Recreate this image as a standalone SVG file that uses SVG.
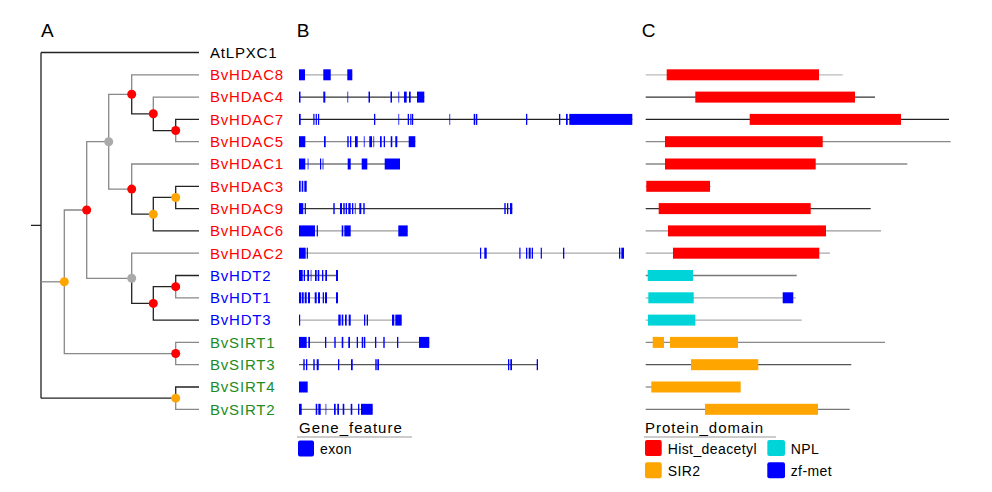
<svg xmlns="http://www.w3.org/2000/svg" width="992" height="492" viewBox="0 0 992 492">
<style>
text{font-family:"Liberation Sans",Arial,sans-serif;}
.pl{font-size:19px;fill:#000}
.lab{font-size:15px;letter-spacing:0.8px}
.h{fill:#ff0000}.t{fill:#0000ff}.s{fill:#1e8c1e}
.k{stroke:#222;stroke-width:1.3;fill:none}
.g{stroke:#888;stroke-width:1.3;fill:none}
.dr{fill:#ff0000}.dg{fill:#aaaaaa}.do{fill:#ffa500}
.ex rect{fill:#0000ff}
.ln{stroke-width:1.3}
.hd{fill:#ff0000}.np{fill:#00d4d8}.zf{fill:#0000ff}.sr{fill:#ffa500}
.lg{font-size:15px;letter-spacing:1px;fill:#000}
.li{font-size:14px;letter-spacing:0.4px;fill:#000}
</style>
<g id="panel-labels">
<text class="pl" x="41" y="36.7">A</text>
<text class="pl" x="296.7" y="36.7">B</text>
<text class="pl" x="641.7" y="36.7">C</text>
</g>
<g id="tree-connectors">
<path class="k" d="M31,225.3H41M41,52.5V398.15M41,52.5H199"/>
<path class="g" d="M41,281.8H64.3"/>
<path class="k" d="M41,398.15H175.7"/>
<path class="g" d="M64.3,281.8V210H86.7"/>
<path class="g" d="M64.3,281.8V353.55H175.7"/>
<path class="g" d="M86.7,210V141.7H108.7"/>
<path class="g" d="M86.7,210V278.3H131.7"/>
<path class="g" d="M108.7,141.7V94.3H131.7"/>
<path class="g" d="M108.7,141.7V189.1H131.7"/>
<path class="g" d="M131.7,94.3V74.8H199"/>
<path class="k" d="M131.7,94.3V113.8H153.3"/>
<path class="g" d="M153.3,113.8V97.1H199"/>
<path class="k" d="M153.3,113.8V130.55H175.7"/>
<path class="k" d="M175.7,130.55V119.4H199"/>
<path class="g" d="M175.7,130.55V141.7H199"/>
<path class="g" d="M131.7,189.1V164H199"/>
<path class="k" d="M131.7,189.1V214.2H153.3"/>
<path class="k" d="M153.3,214.2V197.45H175.7"/>
<path class="k" d="M153.3,214.2V230.9H199"/>
<path class="k" d="M175.7,197.45V186.3H199"/>
<path class="k" d="M175.7,197.45V208.6H199"/>
<path class="g" d="M131.7,278.3V253.2H199"/>
<path class="k" d="M131.7,278.3V303.4H153.3"/>
<path class="k" d="M153.3,303.4V286.65H175.7"/>
<path class="k" d="M153.3,303.4V320.1H199"/>
<path class="k" d="M175.7,286.65V275.5H199"/>
<path class="g" d="M175.7,286.65V297.8H199"/>
<path class="g" d="M175.7,353.55V342.4H199"/>
<path class="g" d="M175.7,353.55V364.7H199"/>
<path class="k" d="M175.7,398.15V387H199"/>
<path class="g" d="M175.7,398.15V409.3H199"/>
</g>
<g id="tree-nodes">
<circle class="dg" cx="108.7" cy="141.7" r="4.5"/>
<circle class="dr" cx="131.7" cy="94.3" r="4.5"/>
<circle class="dr" cx="153.3" cy="113.8" r="4.5"/>
<circle class="dr" cx="175.7" cy="130.55" r="4.5"/>
<circle class="dr" cx="131.7" cy="189.1" r="4.5"/>
<circle class="do" cx="153.3" cy="214.2" r="4.5"/>
<circle class="do" cx="175.7" cy="197.45" r="4.5"/>
<circle class="dr" cx="86.7" cy="210" r="4.5"/>
<circle class="dg" cx="131.7" cy="278.3" r="4.5"/>
<circle class="dr" cx="153.3" cy="303.4" r="4.5"/>
<circle class="dr" cx="175.7" cy="286.65" r="4.5"/>
<circle class="do" cx="64.3" cy="281.8" r="4.5"/>
<circle class="dr" cx="175.7" cy="353.55" r="4.5"/>
<circle class="do" cx="175.7" cy="398.15" r="4.5"/>
</g>
<g id="leaf-labels" class="lab">
<text x="210" y="57.8" fill="#000">AtLPXC1</text>
<text class="h" x="210" y="80.1">BvHDAC8</text>
<text class="h" x="210" y="102.4">BvHDAC4</text>
<text class="h" x="210" y="124.7">BvHDAC7</text>
<text class="h" x="210" y="147">BvHDAC5</text>
<text class="h" x="210" y="169.3">BvHDAC1</text>
<text class="h" x="210" y="191.6">BvHDAC3</text>
<text class="h" x="210" y="213.9">BvHDAC9</text>
<text class="h" x="210" y="236.2">BvHDAC6</text>
<text class="h" x="210" y="258.5">BvHDAC2</text>
<text class="t" x="210" y="280.8">BvHDT2</text>
<text class="t" x="210" y="303.1">BvHDT1</text>
<text class="t" x="210" y="325.4">BvHDT3</text>
<text class="s" x="210" y="347.7">BvSIRT1</text>
<text class="s" x="210" y="370">BvSIRT3</text>
<text class="s" x="210" y="392.3">BvSIRT4</text>
<text class="s" x="210" y="414.6">BvSIRT2</text>
</g>
<g id="gene-BvHDAC8">
<line class="ln" x1="299" y1="74.8" x2="352.3" y2="74.8" stroke="#aaa"/>
<g class="ex"><rect x="299" y="69.3" width="6" height="11"/><rect x="323.3" y="69.3" width="7.4" height="11"/><rect x="347.3" y="69.3" width="5" height="11"/></g>
</g>
<g id="gene-BvHDAC4">
<line class="ln" x1="299" y1="97.1" x2="424.3" y2="97.1" stroke="#333"/>
<g class="ex"><rect x="299" y="91.6" width="1.5" height="11"/><rect x="323.3" y="91.6" width="2" height="11"/><rect x="347" y="91.6" width="1.3" height="11" opacity="0.6"/><rect x="368.5" y="91.6" width="1.5" height="11"/><rect x="390.5" y="91.6" width="1.5" height="11"/><rect x="398" y="91.6" width="1.3" height="11" opacity="0.6"/><rect x="404" y="91.6" width="2.7" height="11"/><rect x="409" y="91.6" width="1.7" height="11"/><rect x="417" y="91.6" width="7.3" height="11"/></g>
</g>
<g id="gene-BvHDAC7">
<line class="ln" x1="299" y1="119.4" x2="632.3" y2="119.4" stroke="#222"/>
<g class="ex"><rect x="299" y="113.9" width="1.7" height="11"/><rect x="313.3" y="113.9" width="1.2" height="11"/><rect x="315.7" y="113.9" width="1.2" height="11"/><rect x="318" y="113.9" width="1.2" height="11"/><rect x="374" y="113.9" width="1.3" height="11"/><rect x="398" y="113.9" width="1.3" height="11" opacity="0.6"/><rect x="407.7" y="113.9" width="1.3" height="11"/><rect x="410.3" y="113.9" width="1.2" height="11"/><rect x="412" y="113.9" width="1.2" height="11"/><rect x="449" y="113.9" width="1.3" height="11" opacity="0.6"/><rect x="473.7" y="113.9" width="1.6" height="11"/><rect x="476" y="113.9" width="1.3" height="11"/><rect x="526" y="113.9" width="1.3" height="11"/><rect x="559" y="113.9" width="1.3" height="11"/><rect x="566" y="113.9" width="1.7" height="11"/><rect x="569.3" y="113.9" width="63" height="11"/></g>
</g>
<g id="gene-BvHDAC5">
<line class="ln" x1="299" y1="141.7" x2="415.3" y2="141.7" stroke="#888"/>
<g class="ex"><rect x="299" y="136.2" width="6.3" height="11"/><rect x="324" y="136.2" width="1.7" height="11"/><rect x="347.3" y="136.2" width="1.4" height="11"/><rect x="350" y="136.2" width="1.3" height="11"/><rect x="355" y="136.2" width="2.7" height="11"/><rect x="363.7" y="136.2" width="1.3" height="11" opacity="0.6"/><rect x="369.3" y="136.2" width="2.7" height="11"/><rect x="373" y="136.2" width="1.3" height="11" opacity="0.6"/><rect x="380" y="136.2" width="1.7" height="11"/><rect x="383.7" y="136.2" width="1.3" height="11"/><rect x="390.7" y="136.2" width="1.6" height="11"/><rect x="395.3" y="136.2" width="2" height="11"/><rect x="408.7" y="136.2" width="6.6" height="11"/></g>
</g>
<g id="gene-BvHDAC1">
<line class="ln" x1="299" y1="164" x2="400" y2="164" stroke="#777"/>
<g class="ex"><rect x="299" y="158.5" width="6.3" height="11"/><rect x="307.5" y="158.5" width="1.2" height="11" opacity="0.6"/><rect x="320" y="158.5" width="1.2" height="11"/><rect x="322.3" y="158.5" width="1.4" height="11" opacity="0.6"/><rect x="347.7" y="158.5" width="3" height="11"/><rect x="361.7" y="158.5" width="5.6" height="11"/><rect x="384.7" y="158.5" width="15.3" height="11"/></g>
</g>
<g id="gene-BvHDAC3">
<g class="ex"><rect x="299" y="180.8" width="1.7" height="11"/><rect x="301.7" y="180.8" width="1.6" height="11"/><rect x="304.3" y="180.8" width="2.4" height="11"/></g>
</g>
<g id="gene-BvHDAC9">
<line class="ln" x1="299" y1="208.6" x2="512.3" y2="208.6" stroke="#333"/>
<g class="ex"><rect x="299" y="203.1" width="4.3" height="11"/><rect x="304.7" y="203.1" width="1.2" height="11"/><rect x="333.3" y="203.1" width="1.4" height="11"/><rect x="340" y="203.1" width="2" height="11"/><rect x="343.3" y="203.1" width="1.4" height="11"/><rect x="345.7" y="203.1" width="1.3" height="11"/><rect x="348.3" y="203.1" width="2.4" height="11"/><rect x="352" y="203.1" width="1.3" height="11"/><rect x="354.7" y="203.1" width="1.3" height="11" opacity="0.6"/><rect x="359.3" y="203.1" width="2" height="11"/><rect x="363.3" y="203.1" width="1.4" height="11"/><rect x="504.3" y="203.1" width="1.4" height="11"/><rect x="507" y="203.1" width="1.3" height="11"/><rect x="510" y="203.1" width="2.3" height="11"/></g>
</g>
<g id="gene-BvHDAC6">
<line class="ln" x1="299" y1="230.9" x2="407.7" y2="230.9" stroke="#999"/>
<g class="ex"><rect x="299" y="225.4" width="16" height="11"/><rect x="316.7" y="225.4" width="1.2" height="11"/><rect x="341.7" y="225.4" width="1.6" height="11"/><rect x="344.3" y="225.4" width="6.4" height="11"/><rect x="398.3" y="225.4" width="9.4" height="11"/></g>
</g>
<g id="gene-BvHDAC2">
<line class="ln" x1="299" y1="253.2" x2="624" y2="253.2" stroke="#aaa"/>
<g class="ex"><rect x="299" y="247.7" width="6.7" height="11"/><rect x="306.7" y="247.7" width="1.2" height="11"/><rect x="480" y="247.7" width="1.2" height="11"/><rect x="484.3" y="247.7" width="2.4" height="11"/><rect x="519.3" y="247.7" width="1.2" height="11"/><rect x="526" y="247.7" width="1.3" height="11"/><rect x="528.7" y="247.7" width="2" height="11"/><rect x="531.7" y="247.7" width="1.3" height="11"/><rect x="540.7" y="247.7" width="1.2" height="11"/><rect x="563" y="247.7" width="1.3" height="11"/><rect x="619" y="247.7" width="1.3" height="11"/><rect x="621.3" y="247.7" width="2.7" height="11"/></g>
</g>
<g id="gene-BvHDT2">
<line class="ln" x1="299" y1="275.5" x2="338" y2="275.5" stroke="#666"/>
<g class="ex"><rect x="299" y="270" width="3.7" height="11"/><rect x="303.7" y="270" width="1.3" height="11"/><rect x="307.3" y="270" width="1.7" height="11"/><rect x="310.5" y="270" width="1.2" height="11" opacity="0.6"/><rect x="315" y="270" width="1.7" height="11"/><rect x="317.7" y="270" width="1.6" height="11"/><rect x="322" y="270" width="1.3" height="11"/><rect x="325.3" y="270" width="1.7" height="11"/><rect x="336" y="270" width="2" height="11"/></g>
</g>
<g id="gene-BvHDT1">
<line class="ln" x1="299" y1="297.8" x2="338" y2="297.8" stroke="#aaa"/>
<g class="ex"><rect x="299" y="292.3" width="2" height="11"/><rect x="301.7" y="292.3" width="2" height="11"/><rect x="304.7" y="292.3" width="2" height="11"/><rect x="308" y="292.3" width="2" height="11"/><rect x="314.7" y="292.3" width="2" height="11"/><rect x="318" y="292.3" width="2" height="11"/><rect x="322.7" y="292.3" width="1.3" height="11"/><rect x="325" y="292.3" width="2" height="11"/><rect x="336" y="292.3" width="2" height="11"/></g>
</g>
<g id="gene-BvHDT3">
<line class="ln" x1="299" y1="320.1" x2="401.7" y2="320.1" stroke="#aaa"/>
<g class="ex"><rect x="299" y="314.6" width="1.2" height="11"/><rect x="338.3" y="314.6" width="2.4" height="11"/><rect x="341.7" y="314.6" width="1.6" height="11"/><rect x="345" y="314.6" width="1.7" height="11"/><rect x="348.7" y="314.6" width="2" height="11"/><rect x="364" y="314.6" width="1.3" height="11"/><rect x="366.7" y="314.6" width="1.3" height="11"/><rect x="392" y="314.6" width="2.3" height="11"/><rect x="395.3" y="314.6" width="6.4" height="11"/></g>
</g>
<g id="gene-BvSIRT1">
<line class="ln" x1="299" y1="342.4" x2="429.3" y2="342.4" stroke="#888"/>
<g class="ex"><rect x="299" y="336.9" width="7.7" height="11"/><rect x="308.3" y="336.9" width="1.7" height="11"/><rect x="325" y="336.9" width="1.3" height="11"/><rect x="334.3" y="336.9" width="1.4" height="11"/><rect x="341.7" y="336.9" width="1.6" height="11"/><rect x="348.3" y="336.9" width="1.7" height="11"/><rect x="356.7" y="336.9" width="1.3" height="11"/><rect x="361.7" y="336.9" width="1.6" height="11"/><rect x="364" y="336.9" width="1.3" height="11"/><rect x="375" y="336.9" width="1.3" height="11"/><rect x="383.3" y="336.9" width="1.4" height="11"/><rect x="397" y="336.9" width="1.3" height="11"/><rect x="419" y="336.9" width="10.3" height="11"/></g>
</g>
<g id="gene-BvSIRT3">
<line class="ln" x1="299" y1="364.7" x2="537.7" y2="364.7" stroke="#555"/>
<g class="ex"><rect x="303.3" y="359.2" width="1.4" height="11"/><rect x="306" y="359.2" width="1.3" height="11"/><rect x="313.3" y="359.2" width="1.4" height="11"/><rect x="316.7" y="359.2" width="2" height="11"/><rect x="338" y="359.2" width="1.3" height="11"/><rect x="351" y="359.2" width="1.7" height="11"/><rect x="375.3" y="359.2" width="1.4" height="11"/><rect x="377.3" y="359.2" width="1.7" height="11"/><rect x="508" y="359.2" width="1.3" height="11"/><rect x="510.3" y="359.2" width="1.7" height="11"/><rect x="536.7" y="359.2" width="1.3" height="11"/></g>
</g>
<g id="gene-BvSIRT4">
<g class="ex"><rect x="299" y="381.5" width="8.7" height="11"/></g>
</g>
<g id="gene-BvSIRT2">
<line class="ln" x1="299" y1="409.3" x2="372.7" y2="409.3" stroke="#777"/>
<g class="ex"><rect x="299" y="403.8" width="2.7" height="11"/><rect x="315.7" y="403.8" width="1.6" height="11"/><rect x="318.3" y="403.8" width="2.4" height="11"/><rect x="325.3" y="403.8" width="1.2" height="11" opacity="0.6"/><rect x="334" y="403.8" width="1.7" height="11"/><rect x="337.3" y="403.8" width="1.7" height="11"/><rect x="342.7" y="403.8" width="1.6" height="11"/><rect x="350.7" y="403.8" width="1.6" height="11"/><rect x="358" y="403.8" width="1.3" height="11"/><rect x="361" y="403.8" width="11.7" height="11"/></g>
</g>
<g id="legend-gene">
<text class="lg" x="299" y="433.3">Gene_feature</text>
<line x1="297" y1="437" x2="412" y2="437" stroke="#bbb" stroke-width="1.3"/>
<rect x="298" y="440.5" width="16" height="16" rx="2" fill="#0000ff"/>
<text class="li" x="320" y="454">exon</text>
</g>
<g id="prot-BvHDAC8"><line class="ln" x1="645.7" y1="74.8" x2="842.7" y2="74.8" stroke="#bbb"/><rect class="hd" x="666.7" y="69.3" width="152.3" height="11"/></g>
<g id="prot-BvHDAC4"><line class="ln" x1="645.7" y1="97.1" x2="875" y2="97.1" stroke="#333"/><rect class="hd" x="695.3" y="91.6" width="159.7" height="11"/></g>
<g id="prot-BvHDAC7"><line class="ln" x1="645.7" y1="119.4" x2="949" y2="119.4" stroke="#222"/><rect class="hd" x="749.7" y="113.9" width="151.3" height="11"/></g>
<g id="prot-BvHDAC5"><line class="ln" x1="645.7" y1="141.7" x2="950.7" y2="141.7" stroke="#888"/><rect class="hd" x="665" y="136.2" width="157.7" height="11"/></g>
<g id="prot-BvHDAC1"><line class="ln" x1="645.7" y1="164" x2="907.3" y2="164" stroke="#888"/><rect class="hd" x="665" y="158.5" width="150.7" height="11"/></g>
<g id="prot-BvHDAC3"><line class="ln" x1="645.7" y1="186.3" x2="710.7" y2="186.3" stroke="#999"/><rect class="hd" x="646.3" y="180.8" width="63.7" height="11"/></g>
<g id="prot-BvHDAC9"><line class="ln" x1="645.7" y1="208.6" x2="870.7" y2="208.6" stroke="#333"/><rect class="hd" x="658.7" y="203.1" width="152" height="11"/></g>
<g id="prot-BvHDAC6"><line class="ln" x1="645.7" y1="230.9" x2="881" y2="230.9" stroke="#999"/><rect class="hd" x="668" y="225.4" width="158" height="11"/></g>
<g id="prot-BvHDAC2"><line class="ln" x1="645.7" y1="253.2" x2="830" y2="253.2" stroke="#aaa"/><rect class="hd" x="673" y="247.7" width="146.3" height="11"/></g>
<g id="prot-BvHDT2"><line class="ln" x1="645.7" y1="275.5" x2="796.7" y2="275.5" stroke="#777"/><rect class="np" x="647.7" y="270" width="45.3" height="11"/></g>
<g id="prot-BvHDT1"><line class="ln" x1="645.7" y1="297.8" x2="795.7" y2="297.8" stroke="#aaa"/><rect class="np" x="648.3" y="292.3" width="45.4" height="11"/><rect class="zf" x="782.7" y="292.3" width="10.6" height="11"/></g>
<g id="prot-BvHDT3"><line class="ln" x1="645.7" y1="320.1" x2="801.7" y2="320.1" stroke="#aaa"/><rect class="np" x="648" y="314.6" width="47.3" height="11"/></g>
<g id="prot-BvSIRT1"><line class="ln" x1="645.7" y1="342.4" x2="885" y2="342.4" stroke="#888"/><rect class="sr" x="652.7" y="336.9" width="11.3" height="11"/><rect class="sr" x="670" y="336.9" width="68" height="11"/></g>
<g id="prot-BvSIRT3"><line class="ln" x1="645.7" y1="364.7" x2="851.3" y2="364.7" stroke="#555"/><rect class="sr" x="691" y="359.2" width="67.3" height="11"/></g>
<g id="prot-BvSIRT4"><line class="ln" x1="645.7" y1="387" x2="652" y2="387" stroke="#888"/><rect class="sr" x="651.3" y="381.5" width="89.4" height="11"/></g>
<g id="prot-BvSIRT2"><line class="ln" x1="645.7" y1="409.3" x2="849.7" y2="409.3" stroke="#777"/><rect class="sr" x="705" y="403.8" width="113" height="11"/></g>
<g id="legend-protein">
<text class="lg" x="645" y="433.3">Protein_domain</text>
<line x1="644" y1="437" x2="776" y2="437" stroke="#bbb" stroke-width="1.3"/>
<rect class="hd" x="645" y="440" width="16.7" height="16" rx="2"/>
<text class="li" x="667.7" y="453.5">Hist_deacetyl</text>
<rect class="np" x="767.3" y="440" width="17.7" height="16" rx="2"/>
<text class="li" x="790.7" y="453.5">NPL</text>
<rect class="sr" x="645" y="462.3" width="16.7" height="16" rx="2"/>
<text class="li" x="667.7" y="475.7">SIR2</text>
<rect class="zf" x="767.3" y="462.3" width="17.7" height="16" rx="2"/>
<text class="li" x="790.7" y="475.7">zf-met</text>
</g>
</svg>
